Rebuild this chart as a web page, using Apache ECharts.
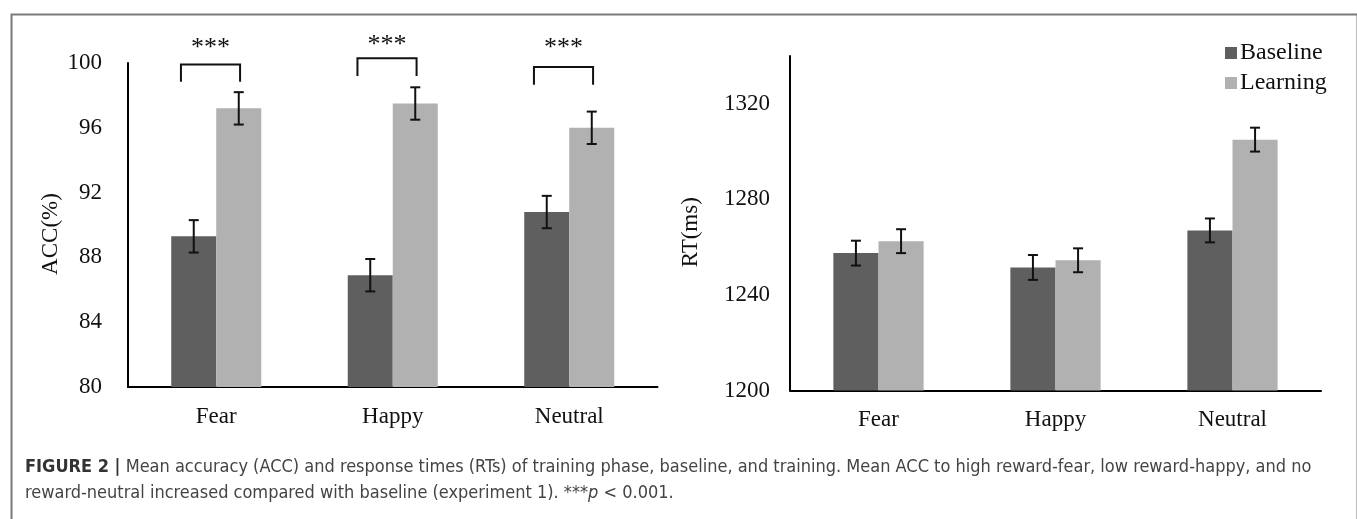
<!DOCTYPE html>
<html>
<head>
<meta charset="utf-8">
<script src="https://cdn.jsdelivr.net/npm/echarts@6/dist/echarts.min.js"></script>
<style>
html,body{margin:0;padding:0;background:#fff;}
#chart{width:1357px;height:519px;}
</style>
</head>
<body>
<div id="chart"></div>
<script>
// ---- data ----
const categories = ['Fear', 'Happy', 'Neutral'];
const seriesNames = ['Baseline', 'Learning'];
const accBaseline = [89.3, 86.9, 90.8];
const accLearning = [97.2, 97.5, 96.0];
const accBaselineErr = [1.0, 1.0, 1.0];
const accLearningErr = [1.0, 1.0, 1.0];
const rtBaseline = [1257.5, 1251.5, 1267.0];
const rtLearning = [1262.5, 1254.5, 1305.0];
const rtBaselineErr = [5.2, 5.2, 5.0];
const rtLearningErr = [5.0, 5.0, 5.0];
const sigBracketTop = [99.9, 100.3, 99.75];
const sigBracketBottom = [98.85, 99.2, 98.65];
const sigLabelY = [101.2, 101.4, 101.2];
const sigLabels = ['***', '***', '***'];
const accTitle = 'ACC(%)';
const rtTitle = 'RT(ms)';
const captionLine1 = 'Mean accuracy (ACC) and response times (RTs) of training phase, baseline, and training. Mean ACC to high reward-fear, low reward-happy, and no';
const captionLine2 = 'reward-neutral increased compared with baseline (experiment 1). ***';
const captionP = 'p';
const captionTail = ' < 0.001.';

// ---- styles ----
const SERIF = "'Liberation Serif', 'Times New Roman', serif";
const CAP_FONT = "'Liberation Sans Narrow', 'DejaVu Sans Condensed', 'Liberation Sans', sans-serif";
const DARK = '#5f5f5f';
const LIGHT = '#b1b1b1';
const BAR_FRAC = 0.255;
const FS = 23;

function errRender(side) {
  return function (params, api) {
    const idx = api.value(0), v = api.value(1), e = api.value(2);
    const bw = api.size([1, 0])[0];
    const cx = api.coord([idx, v])[0] + side * BAR_FRAC * bw / 2;
    const yt = api.coord([idx, v + e])[1];
    const yb = api.coord([idx, v - e])[1];
    const cap = 5;
    const st = { stroke: '#111', lineWidth: 2 };
    return {
      type: 'group',
      children: [
        { type: 'line', shape: { x1: cx, y1: yt, x2: cx, y2: yb }, style: st },
        { type: 'line', shape: { x1: cx - cap, y1: yt, x2: cx + cap, y2: yt }, style: st },
        { type: 'line', shape: { x1: cx - cap, y1: yb, x2: cx + cap, y2: yb }, style: st }
      ]
    };
  };
}

function bracketRender(params, api) {
  const idx = api.value(0);
  const bw = api.size([1, 0])[0];
  const c = api.coord([idx, 0])[0];
  const xl = c - 0.2 * bw;
  const xr = c + 0.135 * bw;
  const yt = api.coord([idx, api.value(1)])[1];
  const yb = api.coord([idx, api.value(2)])[1];
  const ylab = api.coord([idx, api.value(3)])[1];
  const st = { stroke: '#111', lineWidth: 2, fill: null };
  return {
    type: 'group',
    children: [
      { type: 'polyline', shape: { points: [[xl, yb], [xl, yt], [xr, yt], [xr, yb]] }, style: st },
      { type: 'text', x: (xl + xr) / 2, y: ylab + 5,
        style: { text: sigLabels[params.dataIndex], font: '26px ' + SERIF, fill: '#111', align: 'center', verticalAlign: 'middle' } }
    ]
  };
}

const axisLineStyle = { show: true, lineStyle: { color: '#000', width: 2 } };
const catAxis = (gi) => ({
  type: 'category', gridIndex: gi, data: categories,
  axisLine: axisLineStyle, axisTick: { show: false },
  axisLabel: { fontFamily: SERIF, fontSize: FS, color: '#111', margin: 18 }
});

const chart = echarts.init(document.getElementById('chart'), null, { renderer: 'canvas' });
chart.setOption({
  animation: false,
  backgroundColor: '#fff',
  grid: [
    { left: 128, top: 63, width: 529.5, height: 324 },
    { left: 790, top: 56, width: 531, height: 334.5 }
  ],
  legend: {
    data: seriesNames, orient: 'vertical', left: 1220, top: 36,
    itemWidth: 12, itemHeight: 12, itemGap: 6, icon: 'rect',
    textStyle: { fontFamily: SERIF, fontSize: 24, color: '#111', padding: [0, 0, 0, -2] }
  },
  xAxis: [catAxis(0), catAxis(1)],
  yAxis: [
    { type: 'value', gridIndex: 0, min: 80, max: 100, interval: 4,
      name: accTitle, nameLocation: 'middle', nameGap: 66, nameRotate: 90,
      nameTextStyle: { fontFamily: SERIF, fontSize: FS, color: '#111', padding: [0, 18, 0, 0] },
      axisLine: axisLineStyle, axisTick: { show: false }, splitLine: { show: false },
      axisLabel: { fontFamily: SERIF, fontSize: FS, color: '#111', margin: 26, formatter: (v) => String(v) } },
    { type: 'value', gridIndex: 1, min: 1200, max: 1340, interval: 40,
      name: rtTitle, nameLocation: 'middle', nameGap: 88, nameRotate: 90,
      nameTextStyle: { fontFamily: SERIF, fontSize: FS, color: '#111', padding: [0, 18, 0, 0] },
      axisLine: axisLineStyle, axisTick: { show: false }, splitLine: { show: false },
      axisLabel: { fontFamily: SERIF, fontSize: FS, color: '#111', margin: 20, showMaxLabel: false, formatter: (v) => String(v) } }
  ],
  series: [
    { name: seriesNames[0], type: 'bar', xAxisIndex: 0, yAxisIndex: 0, data: accBaseline,
      barWidth: (BAR_FRAC * 100) + '%', barGap: '0%', itemStyle: { color: DARK } },
    { name: seriesNames[1], type: 'bar', xAxisIndex: 0, yAxisIndex: 0, data: accLearning,
      barWidth: (BAR_FRAC * 100) + '%', barGap: '0%', itemStyle: { color: LIGHT } },
    { name: seriesNames[0], type: 'bar', xAxisIndex: 1, yAxisIndex: 1, data: rtBaseline,
      barWidth: (BAR_FRAC * 100) + '%', barGap: '0%', itemStyle: { color: DARK } },
    { name: seriesNames[1], type: 'bar', xAxisIndex: 1, yAxisIndex: 1, data: rtLearning,
      barWidth: (BAR_FRAC * 100) + '%', barGap: '0%', itemStyle: { color: LIGHT } },
    { type: 'custom', xAxisIndex: 0, yAxisIndex: 0, z: 5, clip: false, renderItem: errRender(-1),
      data: categories.map((c, i) => [i, accBaseline[i], accBaselineErr[i]]) },
    { type: 'custom', xAxisIndex: 0, yAxisIndex: 0, z: 5, clip: false, renderItem: errRender(1),
      data: categories.map((c, i) => [i, accLearning[i], accLearningErr[i]]) },
    { type: 'custom', xAxisIndex: 1, yAxisIndex: 1, z: 5, clip: false, renderItem: errRender(-1),
      data: categories.map((c, i) => [i, rtBaseline[i], rtBaselineErr[i]]) },
    { type: 'custom', xAxisIndex: 1, yAxisIndex: 1, z: 5, clip: false, renderItem: errRender(1),
      data: categories.map((c, i) => [i, rtLearning[i], rtLearningErr[i]]) },
    { type: 'custom', xAxisIndex: 0, yAxisIndex: 0, z: 5, clip: false, renderItem: bracketRender,
      data: categories.map((c, i) => [i, sigBracketTop[i], sigBracketBottom[i], sigLabelY[i]]) }
  ],
  graphic: [
    { type: 'rect', left: 9, top: 12, shape: { width: 1346, height: 540 },
      style: { fill: null, stroke: '#7a7a7a', lineWidth: 2 }, silent: true },
    { type: 'text', left: 25, top: 458,
      style: {
        text: '{b|FIGURE 2 |} {r|' + captionLine1 + '}',
        rich: {
          b: { fontFamily: CAP_FONT, fontSize: 18, fontWeight: 'bold', fill: '#333' },
          r: { fontFamily: CAP_FONT, fontSize: 18, fill: '#444' }
        },
        fontFamily: CAP_FONT, fontSize: 18
      } },
    { type: 'text', left: 25, top: 484,
      style: {
        text: '{r|' + captionLine2 + '}{i|' + captionP + '}{r|' + captionTail + '}',
        rich: {
          r: { fontFamily: CAP_FONT, fontSize: 18, fill: '#444' },
          i: { fontFamily: CAP_FONT, fontSize: 18, fontStyle: 'italic', fill: '#444' }
        },
        fontFamily: CAP_FONT, fontSize: 18
      } }
  ]
});
</script>
</body>
</html>
